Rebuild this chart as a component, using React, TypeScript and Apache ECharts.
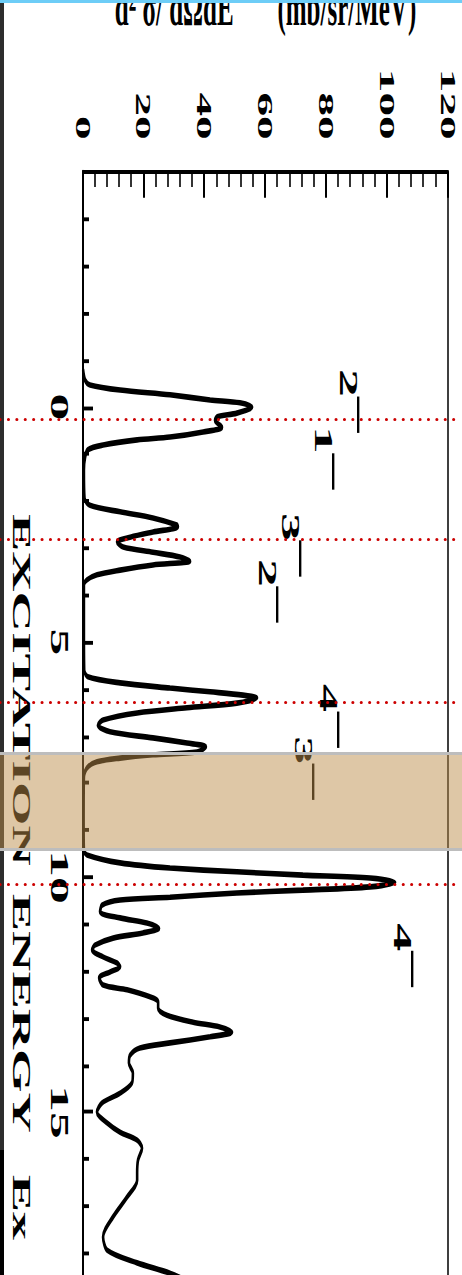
import React, { useEffect, useRef } from "react";
import * as echarts from "echarts";

// ---------------- data ----------------
const energies = [
  -0.8, -0.57, -0.47, -0.36, -0.26, -0.15, -0.09, 0.0, 0.13, 0.21, 0.28, 0.43, 0.53, 0.64, 0.7, 0.81, 0.91, 1.06,
  1.34, 1.94, 2.09, 2.23, 2.36, 2.51, 2.55, 2.66, 2.77, 2.87, 2.98, 3.09, 3.19, 3.28, 3.36, 3.47, 3.57, 3.68, 3.79,
  4.74, 5.6, 5.74, 5.87, 5.98, 6.06, 6.13, 6.19, 6.3, 6.4, 6.51, 6.66, 6.77, 6.91, 7.04, 7.15, 7.23, 7.34, 7.4,
  7.47, 7.55, 7.68, 7.87, 8.79, 9.43, 9.53, 9.7, 9.81, 9.89, 9.96, 10.02, 10.11, 10.21, 10.28, 10.34, 10.43, 10.49,
  10.6, 10.74, 10.87, 10.98, 11.09, 11.19, 11.3, 11.45, 11.55, 11.7, 11.83, 11.91, 12.02, 12.15, 12.3, 12.4, 12.55,
  12.66, 12.79, 12.94, 13.09, 13.19, 13.3, 13.4, 13.53, 13.64, 13.79, 13.96, 14.17, 14.38, 14.6, 14.81, 15.0, 15.23,
  15.43, 15.6, 15.77, 16.02, 16.3, 16.45, 16.81, 17.23, 17.66, 17.94, 18.21, 18.43, 18.65,
];
const crossSection = [
  0.0, 0.7, 2.3, 12.2, 28.6, 41.8, 51.6, 55.6, 50.6, 44.1, 43.4, 45.7, 39.5, 28.6, 17.8, 6.6, 1.6, 0.7,
  0.3, 0.5, 2.3, 12.2, 23.0, 30.9, 31.2, 23.0, 15.5, 11.2, 13.2, 23.0, 31.9, 35.2, 23.0, 12.2, 4.6, 1.3, 0.3,
  0.3, 0.4, 1.6, 12.2, 28.6, 41.8, 52.6, 57.2, 50.6, 34.2, 17.8, 6.6, 4.9, 8.9, 23.0, 34.2, 40.4, 37.5, 23.0,
  12.2, 4.6, 1.3, 0.3, 0.2, 0.3, 1.3, 12.2, 28.6, 50.6, 72.3, 94.4, 102.6, 94.4, 72.3, 50.6, 28.6, 12.2,
  6.2, 5.6, 12.2, 21.0, 25.0, 19.7, 9.9, 3.9, 3.0, 6.6, 11.2, 12.2, 8.9, 5.3, 6.6, 14.5, 22.0,
  24.7, 24.7, 27.6, 36.2, 45.0, 49.0, 41.8, 28.6, 18.7, 15.5, 15.1, 16.4, 16.1, 12.2, 6.2, 4.6, 7.9,
  12.2, 17.8, 19.4, 18.1, 17.8, 17.8, 14.5, 9.9, 6.6, 7.9, 17.8, 28.6, 36.0,
];
const energyTickLabels = ["0", "5", "10", "15"];
const valueTickLabels = ["0", "20", "40", "60", "80", "100", "120"];

const spinLabels = ["2", "1", "3", "2", "4", "3", "4"];
const spinLabelEnergy = [-0.83, 0.38, 2.23, 3.21, 5.87, 6.98, 10.96];
const spinLabelValue = [87.5, 79.2, 68.4, 60.8, 80.9, 72.7, 105.2];

const markerEnergies = [0.26, 2.81, 6.28, 10.15];
const bandEnergies = [7.37, 9.41];

// ---------------- layout ----------------
const PAGE_W = 462;
const PAGE_H = 1275;
const S = 2.15; // vertical stretch of the photographed figure
const PX_PER_MEV = 47; // page pixels per MeV
const E_MIN = -5;
const E_MAX = 25;
const AXIS_TOP = 172; // page y of E_MIN
const GRID_SPAN = (E_MAX - E_MIN) * PX_PER_MEV;
const CHART_W = (AXIS_TOP + GRID_SPAN + 40) / S;
const SERIF = "'Liberation Serif', 'DejaVu Serif', serif";
const NB = "\u00a0";

export default function App() {
  const mainRef = useRef<HTMLDivElement>(null);
  const overRef = useRef<HTMLDivElement>(null);

  useEffect(() => {
    if (!mainRef.current || !overRef.current) return;
    const main = echarts.init(mainRef.current, null, { renderer: "svg", width: CHART_W, height: PAGE_W });
    const over = echarts.init(overRef.current, null, { renderer: "svg", width: PAGE_W, height: PAGE_H });

    main.setOption({
      animation: false,
      grid: {
        left: AXIS_TOP / S,
        top: 14,
        width: GRID_SPAN / S,
        height: 365,
        containLabel: false,
        outerBoundsMode: "none",
        show: true,
        borderColor: "#000",
        borderWidth: 1.5,
        backgroundColor: "transparent",
      },
      xAxis: {
        type: "value",
        min: E_MIN,
        max: E_MAX,
        interval: 5,
        axisLine: { onZero: false, lineStyle: { color: "#000", width: 2 } },
        axisTick: { inside: true, length: 10, lineStyle: { color: "#000", width: 1.8 } },
        minorTick: { show: true, splitNumber: 5, length: 6, lineStyle: { color: "#000", width: 1.8 } },
        splitLine: { show: false },
        axisLabel: {
          formatter: (v: number) => (energyTickLabels.includes(String(v)) ? String(v) : ""),
          color: "#000",
          fontFamily: SERIF,
          fontWeight: "bold",
          fontSize: 25,
          margin: 11,
        },
        name: "EXCITATION" + NB + NB + "ENERGY" + NB + NB + NB + "Ex",
        nameLocation: "middle",
        nameGap: 48,
        nameTextStyle: { color: "#000", fontFamily: SERIF, fontSize: 26, fontWeight: "bold" },
      },
      yAxis: {
        type: "value",
        min: 0,
        max: 120,
        interval: 20,
        axisLine: { show: true, onZero: false, lineStyle: { color: "#000", width: 1.8 } },
        axisTick: { show: true, inside: true, length: 12, lineStyle: { color: "#000", width: 2 } },
        minorTick: { show: true, splitNumber: 5, length: 7, lineStyle: { color: "#000", width: 1.6 } },
        splitLine: { show: false },
        axisLabel: {
          formatter: (v: number) => (valueTickLabels.includes(String(v)) ? String(v) : ""),
          color: "#000",
          fontFamily: SERIF,
          fontWeight: "bold",
          fontSize: 22,
          margin: 15,
        },
        name: "d\u00b2" + NB + "\u03c3/" + NB + "d\u03a9dE" + NB.repeat(7) + "(mb/sr/MeV)",
        nameLocation: "middle",
        nameRotate: 90,
        nameGap: 64,
        nameTextStyle: { color: "#000", fontFamily: SERIF, fontSize: 25, fontWeight: "bold" },
      },
      series: [
        {
          type: "line",
          data: energies.map((e, i) => [e, crossSection[i]]),
          smooth: 0.3,
          showSymbol: false,
          lineStyle: { color: "#000", width: 2.6 },
          silent: true,
          z: 3,
        },
        {
          type: "scatter",
          data: spinLabels.map((t, i) => [spinLabelEnergy[i], spinLabelValue[i], t]),
          symbolSize: 1,
          itemStyle: { color: "#fff" },
          silent: true,
          label: {
            show: true,
            position: "right",
            distance: 0,
            color: "#000",
            opacity: 1,
            textBorderWidth: 0,
            textShadowBlur: 0,
            formatter: (p: any) => "{d|" + p.data[2] + "}{m|\u2013}",
            rich: {
              d: {
                fontFamily: SERIF,
                fontWeight: "bold",
                fontSize: 26,
                lineHeight: 26,
                verticalAlign: "middle",
                color: "#000",
                textBorderWidth: 0,
              },
              m: {
                fontFamily: SERIF,
                fontWeight: "bold",
                fontSize: 33,
                lineHeight: 33,
                verticalAlign: "middle",
                padding: [0, 0, 24, 0],
                color: "#000",
                textBorderWidth: 0,
              },
            },
          },
          z: 4,
        },
      ],
    });

    over.setOption({
      animation: false,
      grid: {
        left: 0,
        right: 0,
        top: AXIS_TOP,
        height: GRID_SPAN,
        containLabel: false,
        outerBoundsMode: "none",
      },
      xAxis: { type: "value", min: 0, max: 1, show: false },
      yAxis: { type: "value", min: E_MIN, max: E_MAX, inverse: true, show: false },
      graphic: [
        { type: "rect", shape: { x: 0, y: 3, width: 4, height: 1147 }, style: { fill: "#2d2d2d" }, z: 0 },
        { type: "rect", shape: { x: 0, y: 1150, width: 4, height: 125 }, style: { fill: "#000" }, z: 0 },
        { type: "rect", shape: { x: 0, y: 0, width: PAGE_W, height: 3 }, style: { fill: "#6dcdf7" }, z: 1 },
      ],
      series: [
        {
          type: "line",
          data: [[0, E_MIN - 10]],
          symbol: "none",
          lineStyle: { opacity: 0 },
          silent: true,
          z: 2,
          markArea: {
            silent: true,
            itemStyle: { color: "rgba(188,141,74,0.49)" },
            label: { show: false },
            data: [[{ yAxis: bandEnergies[0] }, { yAxis: bandEnergies[1] }]],
          },
        },
        {
          type: "line",
          data: [[0, E_MIN - 10]],
          symbol: "none",
          lineStyle: { opacity: 0 },
          silent: true,
          z: 5,
          markLine: {
            silent: true,
            symbol: "none",
            label: { show: false },
            data: [
              ...bandEnergies.map((e) => ({
                yAxis: e,
                lineStyle: { color: "#bdbdbd", width: 3, type: "solid" },
              })),
              ...markerEnergies.map((e) => ({
                yAxis: e,
                lineStyle: { color: "#cc0000", width: 3, type: [0.1, 8.3], cap: "round" },
              })),
            ],
          },
        },
      ],
    });

    return () => {
      main.dispose();
      over.dispose();
    };
  }, []);

  return (
    <div
      style={{
        position: "absolute",
        left: 0,
        top: 0,
        width: PAGE_W,
        height: PAGE_H,
        overflow: "hidden",
        background: "#fff",
      }}
    >
      <div
        ref={mainRef}
        style={{
          position: "absolute",
          left: 0,
          top: 0,
          width: CHART_W,
          height: PAGE_W,
          transformOrigin: "0 0",
          transform: `translate(${PAGE_W}px, 0px) rotate(90deg) scale(${S}, 1)`,
        }}
      />
      <div
        ref={overRef}
        style={{ position: "absolute", left: 0, top: 0, width: PAGE_W, height: PAGE_H, pointerEvents: "none" }}
      />
    </div>
  );
}
